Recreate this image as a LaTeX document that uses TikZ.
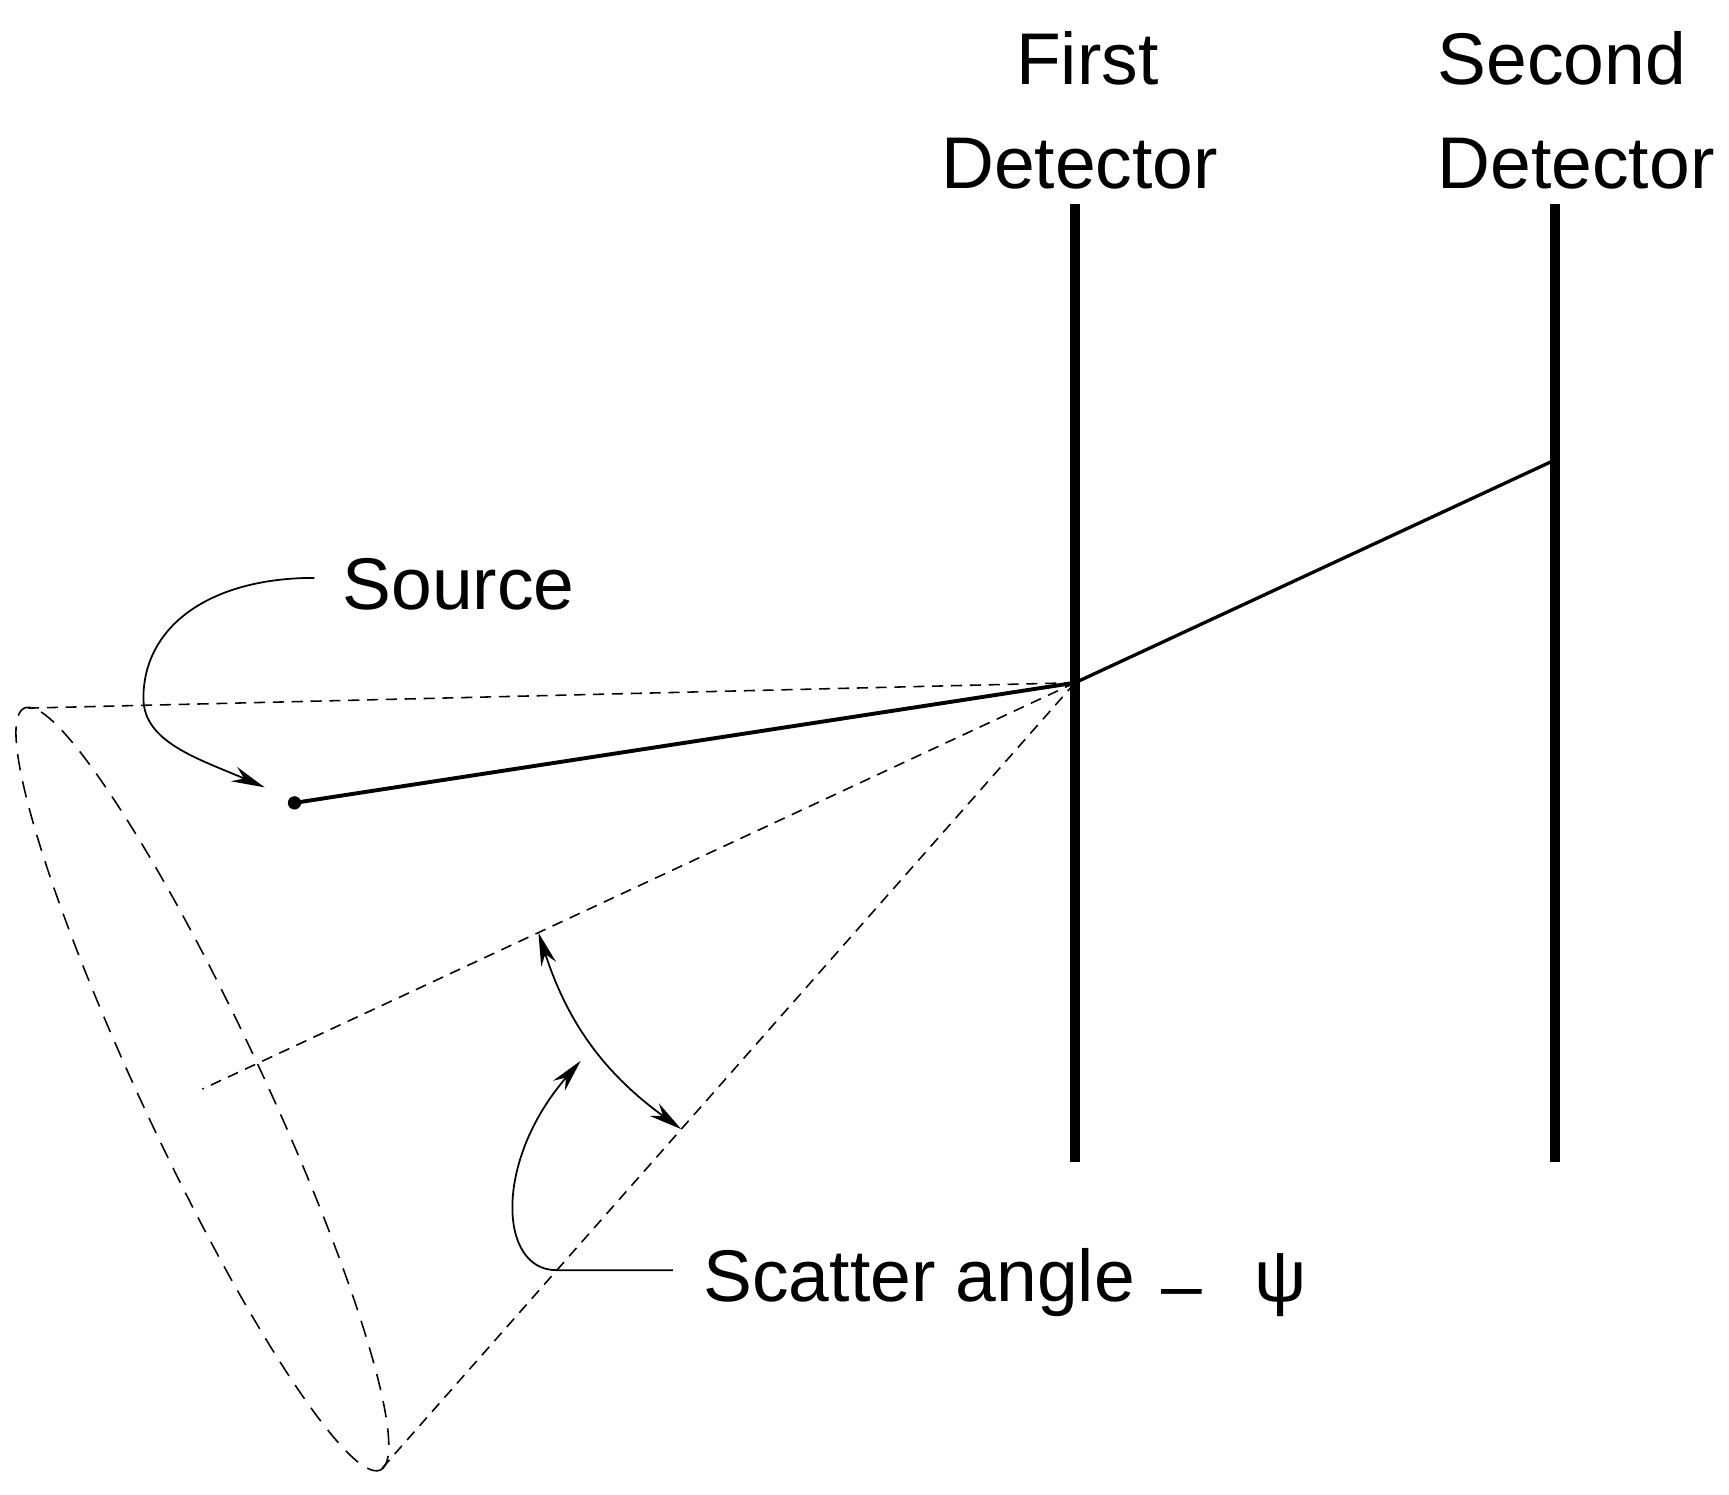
\documentclass[tikz,border=0pt]{standalone}
\usepackage{fontspec}
\setmainfont{Liberation Sans}
\usetikzlibrary{calc}
\usetikzlibrary{arrows.meta}
\tikzset{
	detectorstyle/.style={line width=2.5pt},
	raystyle/.style={line width=1pt},
	conestyle/.style={line width=0.4pt,dash pattern=on 0.1cm off 0.07cm},
	rimstyle/.style={line width=0.4pt,dash pattern=on 0.15cm off 0.1cm},
	pointerstyle/.style={line width=0.45pt,-{Stealth[length=0.3cm,width=0.14cm]}},
	anglestyle/.style={line width=0.45pt,{Stealth[length=0.3cm,width=0.14cm]}-{Stealth[length=0.3cm,width=0.14cm]}},
	labelstyle/.style={inner sep=0pt,font=\fontsize{18.8}{26.6}\selectfont}
}

\begin{document}
\begin{tikzpicture}
		\useasboundingbox (0,0) rectangle (15.6,13.48);
		% detectors
		\coordinate (d1top) at (9.70,11.64);
		\coordinate (d1bot) at (9.70,3.00);
		\coordinate (d2top) at (14.03,11.64);
		\coordinate (d2bot) at (14.03,3.00);
		\draw[detectorstyle] (d1top)--(d1bot);
		\draw[detectorstyle] (d2top)--(d2bot);
		\node[labelstyle,align=center,anchor=south] (first) at (9.74,11.77) {\hspace*{0.14cm}First\\Detector};
		\node[labelstyle,align=left,anchor=south] (second) at (14.22,11.77) {Second\\Detector};
		% photon path
		\coordinate (p) at (9.70,7.32);
		\coordinate (q) at (14.03,9.33);
		\node[circle,fill,inner sep=0pt,minimum size=0.12cm] (src) at (2.657,6.236) {};
		\draw[raystyle] (src.center)--(p);
		\draw[line width=0.85pt] (p)--(q);
		% cone
		\coordinate (rimtop) at (0.219,7.09);
		\coordinate (rimbot) at (3.433,0.216);
		\coordinate (rimc) at (1.826,3.654);
		\draw[conestyle] (p)--(rimtop);
		\draw[conestyle] (p)--(rimc);
		\draw[conestyle] (p)--(rimbot);
		\draw[rimstyle,rotate around={-64.94:(rimc)}] (rimc) ellipse (3.794 and 0.547);
		% labels
		\node[labelstyle,anchor=base west] (srclabel) at (3.085,7.98) {Source};
		\coordinate (srcfrom) at (2.836,8.266);
		\coordinate (srcto) at (2.388,6.376);
		\draw[pointerstyle] (srcfrom) .. controls (1.89,8.266) and (1.294,7.828) .. (1.294,7.181)
			.. controls (1.294,6.783) and (1.791,6.634) .. (srcto);
		\coordinate (a1) at ($(p)!0.615!(rimc)$);
		\coordinate (a2) at ($(p)!0.567!(rimbot)$);
		\draw[anglestyle] (a1) to[bend right=18] (a2);
		\node[labelstyle,anchor=base west] (anglelabel) at (6.34,1.74) {Scatter angle\hspace{0.24cm}\raisebox{-0.25ex}{–}\hspace{0.47cm}ψ};
		\coordinate (angfrom) at (6.07,2.02);
		\coordinate (angbend) at (5.02,2.02);
		\coordinate (angto) at (5.24,3.91);
		\draw[pointerstyle] (angfrom)--(angbend) .. controls (4.5,2.02) and (4.45,3.0) .. (angto);
\end{tikzpicture}
\end{document}
